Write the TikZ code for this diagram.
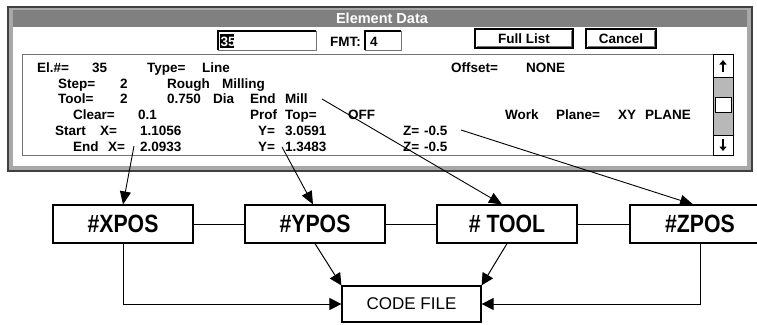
\documentclass[tikz,border=0pt]{standalone}
\usepackage{fontspec}
\usepackage{graphicx}
\setmainfont{Liberation Sans}
\usetikzlibrary{arrows.meta,calc}

\definecolor{framedark}{gray}{0.25}
\definecolor{framegray}{gray}{0.66}
\definecolor{titlegray}{gray}{0.50}
\definecolor{trackgray}{gray}{0.72}
\definecolor{shadegray}{gray}{0.45}

\newcommand{\uitext}{\fontsize{13.5}{15}\selectfont\bfseries}
\newcommand{\tagtext}[1]{\scalebox{0.85}[1]{\fontsize{25}{25}\selectfont\bfseries #1}}

\begin{document}
\begin{tikzpicture}[x=1pt,y=-1pt,
  every node/.style={inner sep=0pt},
  lbl/.style={anchor=base west, font=\uitext},
  tagbox/.style={draw=black, line width=1.2pt, fill=white,
    minimum width=140pt, minimum height=38pt},
  codebox/.style={draw=black, line width=1.2pt, fill=white,
    minimum width=139pt, minimum height=36pt,
    font=\fontsize{17}{17}\selectfont},
  link/.style={draw=black, line width=1pt},
  flow/.style={link, -{Triangle[length=12pt,width=12pt]}},
  pick/.style={draw=black, line width=0.9pt, -{Triangle[length=13pt,width=11pt]}},
  btn/.style={draw=black, line width=1.2pt, fill=white}
]
\useasboundingbox (0,0) rectangle (757,324);
\clip (0,0) rectangle (757,324);

% ---------------- dialog window ----------------
\fill[framedark] (7,6) rectangle (753,172);
\fill[framegray] (9,8) rectangle (751,170);
\fill[white] (13,10) rectangle (747,166);
\fill[titlegray] (13,10) rectangle (747,27);
\node[text=white, font=\fontsize{14.5}{15}\selectfont\bfseries] (title) at (382,18.5) {Element Data};

% element number field
\fill[white] (218,31) rectangle (316,50);
\draw[shadegray, line width=1pt] (218,50) -- (316,50) -- (316,31);
\draw[black, line width=2pt] (218,50) -- (218,31) -- (316,31);
\fill[black] (220,34) rectangle (234,48);
\node[lbl, text=white] (elnum) at (220.5,46) {35};

\node[lbl] (fmtlbl) at (330,46) {FMT:};
\fill[white] (365,31) rectangle (401,50);
\draw[shadegray, line width=1pt] (365,50) -- (401,50) -- (401,31);
\draw[black, line width=2pt] (365,50) -- (365,31) -- (401,31);
\node[lbl] (fmtval) at (370,46) {4};

% buttons
\draw[btn] (475,29) rectangle (573,48);
\draw[shadegray, line width=1.5pt] (476.5,46.5) -- (571.5,46.5) -- (571.5,30.5);
\node[font=\uitext] (fulllist) at (524,38.5) {Full List};
\draw[btn] (586,29) rectangle (656,48);
\draw[shadegray, line width=1.5pt] (587.5,46.5) -- (654.5,46.5) -- (654.5,30.5);
\node[font=\uitext] (cancel) at (621,38.5) {Cancel};

% list area
\draw[shadegray, line width=1pt] (22,54) rectangle (713,155);

% scroll bar
\fill[trackgray] (713,77) rectangle (733,135);
\draw[black, line width=1pt] (713,54) rectangle (733,155);
\draw[black, line width=1pt, fill=white] (713,54) rectangle (733,77);
\draw[black, line width=1pt, fill=white] (713,135) rectangle (733,155);
\draw[black, line width=1pt, fill=white] (715,97) rectangle (731,112);
\draw[line width=1.8pt, -{Triangle[length=4.5pt,width=7pt]}] (723,72) -- (723,60);
\draw[line width=1.8pt, -{Triangle[length=4.5pt,width=7pt]}] (723,139) -- (723,151);

% element record text
\node[lbl] (t11) at (37,72) {El.\#=};
\node[lbl] (t12) at (92,72) {35};
\node[lbl] (t13) at (147,72) {Type=};
\node[lbl] (t14) at (202,72) {Line};
\node[lbl] (t15) at (451,72) {Offset=};
\node[lbl] (t16) at (526,72) {NONE};

\node[lbl] (t21) at (58,88) {Step=};
\node[lbl] (t22) at (120,88) {2};
\node[lbl] (t23) at (167,88) {Rough};
\node[lbl] (t24) at (222,88) {Milling};

\node[lbl] (t31) at (58,103.5) {Tool=};
\node[lbl] (t32) at (120,103.5) {2};
\node[lbl] (t33) at (167,103.5) {0.750};
\node[lbl] (t34) at (213,103.5) {Dia};
\node[lbl] (t35) at (250,103.5) {End};
\node[lbl] (t36) at (285,103.5) {Mill};

\node[lbl] (t41) at (73,119) {Clear=};
\node[lbl] (t42) at (138,119) {0.1};
\node[lbl] (t43) at (250,119) {Prof};
\node[lbl] (t44) at (285,119) {Top=};
\node[lbl] (t45) at (348,119) {OFF};
\node[lbl] (t46) at (505,119) {Work};
\node[lbl] (t47) at (556,119) {Plane=};
\node[lbl] (t48) at (618,119) {XY};
\node[lbl] (t49) at (645,119) {PLANE};

\node[lbl] (t51) at (55,135) {Start};
\node[lbl] (t52) at (100,135) {X=};
\node[lbl] (t53) at (140,135) {1.1056};
\node[lbl] (t54) at (258,135) {Y=};
\node[lbl] (t55) at (285,135) {3.0591};
\node[lbl] (t56) at (403,135) {Z=};
\node[lbl] (t57) at (424,135) {-0.5};

\node[lbl] (t61) at (73,151) {End};
\node[lbl] (t62) at (108,151) {X=};
\node[lbl] (t63) at (140,151) {2.0933};
\node[lbl] (t64) at (258,151) {Y=};
\node[lbl] (t65) at (285,151) {1.3483};
\node[lbl] (t66) at (403,151) {Z=};
\node[lbl] (t67) at (424,151) {-0.5};

% ---------------- variable boxes ----------------
\node[tagbox] (xpos) at (123,224) {\tagtext{\#XPOS}};
\node[tagbox] (ypos) at (315,224) {\tagtext{\#YPOS}};
\node[tagbox] (tool) at (507,224) {\tagtext{\# TOOL}};
\node[tagbox] (zpos) at (700,224) {\tagtext{\#ZPOS}};
\node[codebox] (code) at (411.5,304) {CODE FILE};

\draw[link] (xpos) -- (ypos);
\draw[link] (ypos) -- (tool);
\draw[link] (tool) -- (zpos);

\draw[flow] (xpos.south) |- (code.west);
\draw[flow] (zpos.south) |- (code.east);
\draw[flow] (ypos.south) -- (code.north west);
\draw[flow] (tool.south) -- (code.north east);

% fields picked from the record
\coordinate (xsrc) at (134,146);
\coordinate (ysrc) at (282,147);
\coordinate (toolsrc) at (322,99);
\coordinate (zsrc) at (461,130);
\draw[pick] (xsrc) -- (xpos.north);
\draw[pick] (ysrc) -- ($(ypos.north)+(-2,0)$);
\draw[pick] (toolsrc) -- ($(tool.north)+(-5,0)$);
\draw[pick] (zsrc) -- ($(zpos.north)+(-7,0)$);
\end{tikzpicture}
\end{document}
